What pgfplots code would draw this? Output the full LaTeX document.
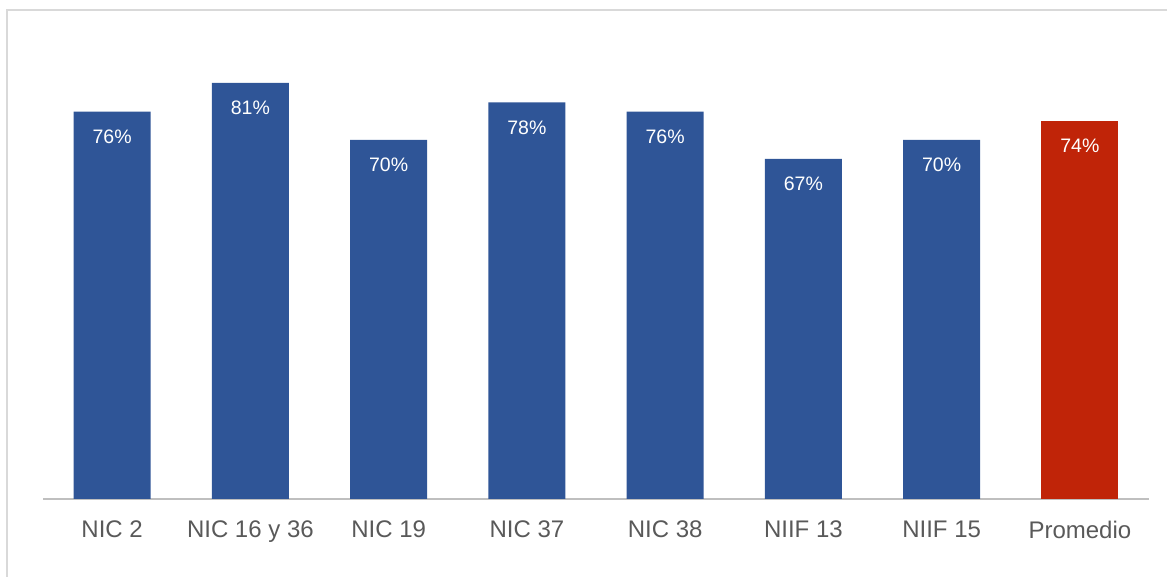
\documentclass[border=0pt]{standalone}
\usepackage{pgfplots}
\pgfplotsset{compat=1.18}
\usepackage{fontspec}
\setmainfont{Liberation Sans}
\definecolor{barblue}{RGB}{47,85,151}
\definecolor{barred}{RGB}{192,36,8}
\definecolor{ticktext}{RGB}{89,89,89}
\definecolor{axisgray}{RGB}{191,191,191}
\definecolor{framegray}{RGB}{217,217,217}
\begin{document}
\begin{tikzpicture}
\useasboundingbox (-21.5pt,-39pt) rectangle (562pt,249.5pt);
\draw[framegray, line width=1pt] (-18.25pt,-39pt) -- (-18.25pt,244.25pt) -- (562pt,244.25pt);
\begin{axis}[
  at={(0pt,0pt)}, anchor=south west,
  scale only axis,
  width=553pt, height=230.4pt,
  xmin=-0.5, xmax=7.5,
  ymin=0, ymax=90,
  ybar, bar width=38.5pt, bar shift=0pt,
  axis y line=none,
  axis x line*=bottom,
  x axis line style={axisgray, line width=1pt, -},
  xtick={0,...,7},
  xticklabels={NIC 2, NIC 16 y 36, NIC 19, NIC 37, NIC 38, NIIF 13, NIIF 15, Promedio},
  major tick length=0pt,
  xticklabel style={font=\fontsize{12}{14}\selectfont, text=ticktext, yshift=-7.5pt},
  point meta=explicit symbolic,
  nodes near coords,
  every node near coord/.append style={font=\fontsize{9.75}{11}\selectfont, text=white, anchor=center, yshift=-12.5pt},
  clip=false,
]
\addplot[fill=barblue, draw=none] coordinates {
  (0,75.64) [76\%]
  (1,81.25) [81\%]
  (2,70.12) [70\%]
  (3,77.48) [78\%]
  (4,75.64) [76\%]
  (5,66.41) [67\%]
  (6,70.12) [70\%]
};
\addplot[fill=barred, draw=none] coordinates {(7,73.83) [74\%]};
\end{axis}
\end{tikzpicture}
\end{document}
